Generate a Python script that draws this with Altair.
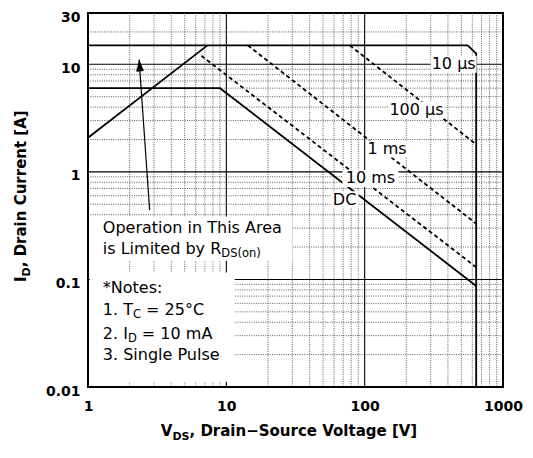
import altair as alt
import pandas as pd

FONT = "DejaVu Sans"

# ---- axes / grid values ----
x_ticks = [1, 10, 100, 1000]
y_ticks = [0.01, 0.1, 1, 10, 30]
x_major = [1, 10, 100, 1000]
y_major = [0.01, 0.1, 1, 10]
x_minor = [2, 3, 4, 5, 6, 7, 8, 9, 20, 30, 40, 50, 60, 70, 80, 90,
           200, 300, 400, 500, 600, 700, 800, 900]
y_minor = [0.02, 0.03, 0.04, 0.05, 0.06, 0.07, 0.08, 0.09,
           0.2, 0.3, 0.4, 0.5, 0.6, 0.7, 0.8, 0.9,
           2, 3, 4, 5, 6, 7, 8, 9, 20]

# ---- SOA limit curves (V_DS [V], I_D [A]) ----
rds_v = [1, 7.3]
rds_i = [2.08, 15]
us10_v = [1, 555, 640, 640]
us10_i = [15, 15, 12.6, 0.01]
dc_v = [1, 9, 640]
dc_i = [6, 6, 0.087]
us100_v = [78, 640]
us100_i = [15, 1.8]
ms1_v = [14.3, 640]
ms1_i = [15, 0.33]
ms10_v = [6.6, 640]
ms10_i = [12, 0.13]

# ---- curve labels ----
label_text = ["10 \u00b5s", "100 \u00b5s", "1 ms", "10 ms", "DC"]
label_v = [440, 237, 145, 110, 71.6]
label_i = [10, 3.74, 1.63, 0.87, 0.55]

# ---- annotation anchors (data units) ----
arrow_v = [2.79, 2.34]
arrow_i = [0.442, 11.1]
area_box_v = [1.03, 30]
area_box_i = [0.149, 0.385]
notes_box_v = [1.03, 11.5]
notes_box_i = [0.0112, 0.116]
note_v = 1.28
area_lines_i = [0.30, 0.192]
note_lines_i = [0.0834, 0.0517, 0.0313, 0.0198]

xscale = alt.Scale(type="log", domain=[1, 1000], nice=False)
yscale = alt.Scale(type="log", domain=[0.01, 30], nice=False)

x_axis = alt.Axis(values=x_ticks, format="~g", grid=False, ticks=False, domain=False,
                  labelFont=FONT, labelFontWeight="bold", labelFontSize=14,
                  labelColor="black", labelPadding=12, labelOverlap=False,
                  labelFlush=False, title=None)
y_axis = alt.Axis(values=y_ticks, format="~g", grid=False, ticks=False, domain=False,
                  labelFont=FONT, labelFontWeight="bold", labelFontSize=14,
                  labelColor="black", labelPadding=8, labelOverlap=False,
                  labelOffset=4, labelFlush=False, title=None)


def X(field="v"):
    return alt.X(field, type="quantitative", scale=xscale, axis=x_axis)


def Y(field="i"):
    return alt.Y(field, type="quantitative", scale=yscale, axis=y_axis)


layers = []

# minor grid (dotted)
layers.append(alt.Chart(pd.DataFrame({"v": x_minor})).mark_rule(
    color="#333", strokeWidth=0.8, strokeDash=[1, 1.3]).encode(x=X()))
layers.append(alt.Chart(pd.DataFrame({"i": y_minor})).mark_rule(
    color="#333", strokeWidth=0.8, strokeDash=[1, 1.3]).encode(y=Y()))
# major grid (solid)
layers.append(alt.Chart(pd.DataFrame({"v": x_major})).mark_rule(
    color="black", strokeWidth=1.1).encode(x=X()))
layers.append(alt.Chart(pd.DataFrame({"i": y_major})).mark_rule(
    color="black", strokeWidth=1.1).encode(y=Y()))

# white text areas
boxes = pd.DataFrame({
    "v": [area_box_v[0], notes_box_v[0]], "v2": [area_box_v[1], notes_box_v[1]],
    "i": [area_box_i[0], notes_box_i[0]], "i2": [area_box_i[1], notes_box_i[1]],
})
layers.append(alt.Chart(boxes).mark_rect(color="white").encode(
    x=X(), x2="v2", y=Y(), y2="i2"))

# curves
curves = [("rds", rds_v, rds_i, "solid"), ("us10", us10_v, us10_i, "solid"),
          ("dc", dc_v, dc_i, "solid"), ("us100", us100_v, us100_i, "dash"),
          ("ms1", ms1_v, ms1_i, "dash"), ("ms10", ms10_v, ms10_i, "dash")]
rows = []
for name, vs, is_, style in curves:
    for k, (v, i) in enumerate(zip(vs, is_)):
        rows.append({"series": name, "ord": k, "v": v, "i": i, "style": style})
cdf = pd.DataFrame(rows)
layers.append(alt.Chart(cdf[cdf["style"] == "solid"]).mark_line(
    color="black", strokeWidth=1.8).encode(
    x=X(), y=Y(), detail="series:N", order="ord:Q"))
layers.append(alt.Chart(cdf[cdf["style"] == "dash"]).mark_line(
    color="black", strokeWidth=1.8, strokeDash=[4, 3]).encode(
    x=X(), y=Y(), detail="series:N", order="ord:Q"))

# label backgrounds + labels
box_w = [46, 56, 40, 56, 28]
for t, v, i, w in zip(label_text, label_v, label_i, box_w):
    d = pd.DataFrame({"v": [v], "i": [i], "t": [t]})
    layers.append(alt.Chart(d).mark_rect(color="white", width=w, height=17).encode(
        x=X(), y=Y()))
    layers.append(alt.Chart(d).mark_text(font=FONT, fontSize=16, color="black",
                                         align="center", baseline="middle").encode(
        x=X(), y=Y(), text="t:N"))

# arrow
adf = pd.DataFrame({"v": arrow_v, "i": arrow_i, "ord": [0, 1]})
layers.append(alt.Chart(adf).mark_line(color="black", strokeWidth=1.2).encode(
    x=X(), y=Y(), order="ord:Q"))
layers.append(alt.Chart(pd.DataFrame({"v": [2.36], "i": [9.8]})).mark_point(
    shape="M0,-1L0.62,1L-0.62,1Z", size=150, filled=True, color="black",
    opacity=1, angle=356).encode(x=X(), y=Y()))


def txt(text, v, i, size=16, dx=0, dy=0):
    d = pd.DataFrame({"v": [v], "i": [i], "t": [text]})
    return alt.Chart(d).mark_text(font=FONT, fontSize=size, color="black", align="left",
                                  baseline="middle", dx=dx, dy=dy).encode(
        x=X(), y=Y(), text="t:N")


sp = 0.318 * 16
layers += [
    txt("Operation in This Area", note_v, area_lines_i[0]),
    txt("is Limited by R", note_v, area_lines_i[1]),
    txt("DS(on)", note_v, area_lines_i[1], size=11.5, dx=118.5, dy=5),
    txt("*Notes:", note_v, note_lines_i[0]),
    txt("1. T", note_v, note_lines_i[1]),
    txt("C", note_v, note_lines_i[1], size=11.5, dx=30.1, dy=5),
    txt("= 25\u00b0C", note_v, note_lines_i[1], dx=30.1 + 0.698 * 11.5 + sp),
    txt("2. I", note_v, note_lines_i[2]),
    txt("D", note_v, note_lines_i[2], size=11.5, dx=25.1, dy=5),
    txt("= 10 mA", note_v, note_lines_i[2], dx=25.1 + 0.770 * 11.5 + sp),
    txt("3. Single Pulse", note_v, note_lines_i[3]),
]

# axis titles (rich text with subscripts)
W, H = 415, 374


def ptxt(text, x, y, size, dx=0, dy=0, angle=0):
    d = pd.DataFrame({"t": [text]})
    return alt.Chart(d).mark_text(font=FONT, fontSize=size, fontWeight="bold",
                                  color="black", align="left", baseline="alphabetic",
                                  dx=dx, dy=dy, angle=angle).encode(
        x=alt.value(x), y=alt.value(y), text="t:N")


TS, SS = 15, 11
# x title
xt_start = W / 2 - 6 - 128.7
xt_base = H + 49
layers += [
    ptxt("V", xt_start, xt_base, TS),
    ptxt("DS", xt_start, xt_base, SS, dx=0.774 * TS, dy=4),
    ptxt(", Drain\u2212Source Voltage [V]", xt_start, xt_base, TS,
         dx=0.774 * TS + (0.830 + 0.721) * SS),
]
# y title (rotated)
yt_x = -62
yt_start = H / 2 - 4 + 86
layers += [
    ptxt("I", yt_x, yt_start, TS, angle=270),
    ptxt("D", yt_x, yt_start, SS, dx=0.372 * TS, dy=4, angle=270),
    ptxt(", Drain Current [A]", yt_x, yt_start, TS, dx=0.372 * TS + 0.830 * SS, angle=270),
]

chart = alt.layer(*layers).properties(
    width=W, height=H, autosize="none",
    padding={"left": 80, "top": 5, "right": 20, "bottom": 58},
).configure_view(stroke="black", strokeWidth=2)

chart.save("out.html", embed_options={"renderer": "svg", "actions": False})
